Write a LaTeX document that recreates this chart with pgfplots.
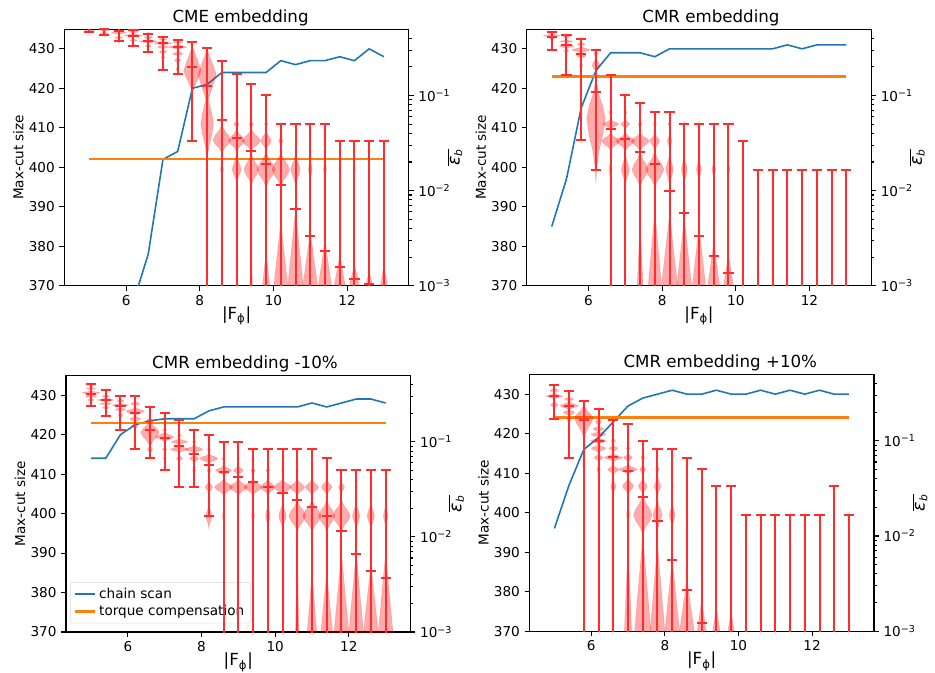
\documentclass[border=0pt]{standalone}
\usepackage{fontspec}
\setmainfont{DejaVu Sans}
\usepackage{pgfplots}
\usepackage{pgfplotstable}
\pgfplotsset{compat=1.18}

\definecolor{tabblue}{HTML}{1F77B4}
\definecolor{taborange}{HTML}{FF7F0E}
\definecolor{vred}{RGB}{255,45,45}
\newcommand\tk{\fontsize{10.2}{12}\selectfont}
\newcommand\bg{\fontsize{12.5}{14}\selectfont}

% violin bodies: each entry = level (log10 eps) / half width / lower and upper extent / shape (0 bump, 1 wedge)
\newcommand\violin[2]{%
  \gdef\vpts{}%
  \foreach \L/\W/\Hl/\Hu/\sh in {#2}{%
    \ifnum\sh=1 \def\fa{0.75}\def\fb{0.5}\def\fc{0.25}\else\def\fa{0.75}\def\fb{0.32}\def\fc{0.08}\fi
    \pgfmathsetmacro\xA{#1-\W}\pgfmathsetmacro\xB{#1-\fa*\W}%
    \pgfmathsetmacro\xC{#1-\fb*\W}\pgfmathsetmacro\xD{#1-\fc*\W}%
    \pgfmathsetmacro\xE{#1+\fc*\W}\pgfmathsetmacro\xF{#1+\fb*\W}%
    \pgfmathsetmacro\xG{#1+\fa*\W}\pgfmathsetmacro\xH{#1+\W}%
    \pgfmathsetmacro\yA{\L-\Hl}\pgfmathsetmacro\yB{\L-0.75*\Hl}%
    \pgfmathsetmacro\yC{\L-0.5*\Hl}\pgfmathsetmacro\yD{\L-0.25*\Hl}%
    \pgfmathsetmacro\yE{\L+0.25*\Hu}\pgfmathsetmacro\yF{\L+0.5*\Hu}%
    \pgfmathsetmacro\yG{\L+0.75*\Hu}\pgfmathsetmacro\yH{\L+\Hu}%
    \xdef\vpts{\vpts (#1,\yA) (\xD,\yB) (\xC,\yC) (\xB,\yD) (\xA,\L) (\xB,\yE) (\xC,\yF) (\xD,\yG) (#1,\yH) (\xE,\yG) (\xF,\yF) (\xG,\yE) (\xH,\L) (\xG,\yD) (\xF,\yC) (\xE,\yB) (#1,\yA) (#1,nan) }%
  }%
  \edef\tmp{\noexpand\addplot[vio] coordinates {\vpts};}\tmp
}

\pgfplotsset{
  common/.style={scale only axis, width=258.5pt, height=192.5pt,
    xmin=4.32, xmax=13.68, tick align=outside,
    major tick length=3.6pt, minor tick length=2.1pt,
    tick style={black, line width=0.8pt}, axis line style={line width=0.8pt},
    tick label style={font=\tk}, label style={font=\tk},
    /pgf/number format/assume math mode=true},
  lax/.style={common, ymin=370, ymax=435, xtick={6,8,10,12},
    ytick={370,380,...,430}, xtick pos=left, ytick pos=left,
    ylabel={Max-cut size}, ylabel style={yshift=-3pt}, xlabel={|F\textsubscript{ϕ}|},
    xlabel style={font=\bg, yshift=6pt}, title style={font=\bg, yshift=-7pt}},
  rax/.style={common, ymin=-3, ymax=-0.30103, axis x line=none, axis y line*=right,
    ytick pos=right, yticklabel pos=right,
    ytick={-3,-2,-1}, yticklabels={10\textsuperscript{−3},10\textsuperscript{−2},10\textsuperscript{−1}},
    minor ytick={-2.699,-2.523,-2.398,-2.301,-2.222,-2.155,-2.097,-2.046,
      -1.699,-1.523,-1.398,-1.301,-1.222,-1.155,-1.097,-1.046,-0.699,-0.523,-0.398},
    ylabel={$\overline{\mbox{\itshape ε}_{\mbox{\footnotesize\itshape b}}}$},
    every axis y label/.style={at={(axis description cs:1.133,0.5)}, anchor=center, rotate=90,
      font=\fontsize{13}{15}\selectfont}},
  vio/.style={fill=red, fill opacity=0.33, draw=red, draw opacity=0.18, line width=0.4pt,
    unbounded coords=jump, forget plot},
  bars/.style={only marks, color=vred, mark=-, mark size=3.8pt,
    mark options={line width=1.5pt}, line width=1.5pt,
    error bars/.cd, y dir=both, y explicit, error mark=|,
    error mark options={line width=1.5pt, mark size=3.8pt},
    error bar style={line width=1.5pt}},
}

% chain-break statistics, log10 of eps_b: max, mean, min
\pgfplotstableread{
x max mean min
5.0 -0.219 -0.269 -0.327
5.4 -0.240 -0.302 -0.360
5.8 -0.260 -0.318 -0.430
6.2 -0.306 -0.372 -0.476
6.6 -0.352 -0.422 -0.543
7.0 -0.381 -0.447 -0.734
7.4 -0.418 -0.493 -0.775
7.8 -0.439 -0.704 -1.481
8.2 -0.501 -0.900 -5
8.6 -0.638 -1.257 -5
9.0 -0.775 -1.447 -5
9.4 -0.875 -1.580 -5
9.8 -0.999 -1.717 -5
10.2 -1.302 -1.937 -5
10.6 -1.302 -2.191 -5
11.0 -1.302 -2.473 -5
11.4 -1.302 -2.639 -5
11.8 -1.481 -2.801 -5
12.2 -1.481 -2.934 -5
12.6 -1.481 -2.979 -5
13.0 -1.481 -3.04 -5
}\errA
\pgfplotstableread{
x max mean min
5.0 -0.331 -0.385 -0.522
5.4 -0.368 -0.464 -0.779
5.8 -0.401 -0.563 -1.472
6.2 -0.522 -0.962 -1.780
6.6 -0.779 -1.356 -5
7.0 -0.999 -1.456 -5
7.4 -1.082 -1.589 -5
7.8 -1.178 -1.721 -5
8.2 -1.178 -2.004 -5
8.6 -1.298 -2.240 -5
9.0 -1.298 -2.473 -5
9.4 -1.298 -2.689 -5
9.8 -1.298 -2.863 -5
10.2 -1.481 -3.3 -5
10.6 -1.780 -3.5 -5
11.0 -1.780 -3.5 -5
11.4 -1.780 -3.5 -5
11.8 -1.780 -3.5 -5
12.2 -1.780 -3.5 -5
12.6 -1.780 -3.5 -5
13.0 -1.780 -3.5 -5
}\errB
\pgfplotstableread{
x max mean min
5.0 -0.397 -0.497 -0.626
5.4 -0.451 -0.563 -0.729
5.8 -0.522 -0.621 -0.875
6.2 -0.522 -0.700 -1.074
6.6 -0.630 -0.879 -1.169
7.0 -0.700 -0.962 -1.294
7.4 -0.775 -1.049 -1.472
7.8 -0.875 -1.132 -1.472
8.2 -0.933 -1.244 -1.775
8.6 -0.999 -1.315 -5
9.0 -0.999 -1.369 -5
9.4 -1.078 -1.427 -5
9.8 -1.078 -1.477 -5
10.2 -1.078 -1.535 -5
10.6 -1.078 -1.609 -5
11.0 -1.078 -1.684 -5
11.4 -1.174 -1.775 -5
11.8 -1.294 -1.937 -5
12.2 -1.294 -2.178 -5
12.6 -1.294 -2.357 -5
13.0 -1.294 -2.427 -5
}\errC
\pgfplotstableread{
x max mean min
5.0 -0.414 -0.526 -0.775
5.4 -0.476 -0.638 -1.178
5.8 -0.576 -0.783 -5
6.2 -0.663 -1.003 -5
6.6 -0.779 -1.174 -5
7.0 -0.821 -1.315 -5
7.4 -0.999 -1.589 -5
7.8 -1.082 -1.842 -5
8.2 -1.082 -2.257 -5
8.6 -1.178 -2.572 -5
9.0 -1.298 -2.917 -5
9.4 -1.477 -3.3 -5
9.8 -1.477 -3.3 -5
10.2 -1.780 -3.5 -5
10.6 -1.780 -3.5 -5
11.0 -1.780 -3.5 -5
11.4 -1.780 -3.5 -5
11.8 -1.780 -3.5 -5
12.2 -1.780 -3.5 -5
12.6 -1.477 -3.4 -5
13.0 -1.780 -3.5 -5
}\errD

\newcommand\errplot[1]{\addplot[bars] table[x=x, y=mean,
  y error plus expr=\thisrow{max}-\thisrow{mean},
  y error minus expr=\thisrow{mean}-\thisrow{min}] {#1};}

\begin{document}
\begin{tikzpicture}
\path[use as bounding box] (0,0) rectangle (701.25pt,-504pt);

% ---------------- CME embedding
\begin{axis}[lax, at={(48.2pt,-214.3pt)}, anchor=south west, title={CME embedding},
  title style={xshift=3pt}]
\addplot[color=tabblue, line width=1.2pt, mark=none] coordinates {(6.2,366) (6.6,378) (7.0,402) (7.4,404) (7.8,420) (8.2,421) (8.6,424) (9.0,424) (9.4,424) (9.8,424) (10.2,427) (10.6,426) (11.0,427) (11.4,427) (11.8,428) (12.2,427) (12.6,430) (13.0,428)};
\addplot[color=taborange, line width=1.4pt, mark=none] coordinates {(5.0,402) (13.0,402)};
\end{axis}
\begin{axis}[rax, at={(48.2pt,-214.3pt)}, anchor=south west]
\violin{5.0}{-0.32/0.14/0.03/0.04/0, -0.27/0.12/0.03/0.04/0}
\violin{5.4}{-0.35/0.1/0.03/0.03/0, -0.31/0.14/0.02/0.03/0, -0.27/0.1/0.02/0.03/0}
\violin{5.8}{-0.43/0.05/0.02/0.02/0, -0.39/0.1/0.02/0.02/0, -0.34/0.2/0.02/0.03/0, -0.29/0.15/0.02/0.03/0}
\violin{6.2}{-0.47/0.05/0.02/0.02/0, -0.42/0.1/0.02/0.02/0, -0.37/0.25/0.02/0.025/0, -0.33/0.12/0.02/0.02/0}
\violin{6.6}{-0.54/0.04/0.02/0.02/0, -0.48/0.08/0.02/0.02/0, -0.43/0.25/0.025/0.025/0, -0.39/0.12/0.02/0.02/0, -0.35/0.06/0.02/0.02/0}
\violin{7.0}{-0.68/0.03/0.04/0.04/0, -0.60/0.05/0.03/0.03/0, -0.54/0.1/0.03/0.03/0, -0.49/0.15/0.025/0.025/0, -0.45/0.25/0.025/0.025/0, -0.41/0.1/0.02/0.02/0}
\violin{7.4}{-0.72/0.04/0.05/0.05/0, -0.63/0.08/0.04/0.04/0, -0.56/0.14/0.03/0.03/0, -0.49/0.25/0.03/0.03/0, -0.44/0.12/0.02/0.02/0}
\violin{7.8}{-1.2/0.02/0.28/0.25/1, -0.74/0.24/0.22/0.26/1}
\violin{8.2}{-1.30/0.17/0.45/0.45/0, -0.78/0.25/0.3/0.27/1}
\violin{8.6}{-1.78/0.04/0.1/0.1/0, -1.47/0.24/0.16/0.2/0, -1.0/0.03/0.25/0.4/1}
\violin{9.0}{-1.778/0.12/0.17/0.2/0, -1.477/0.22/0.13/0.15/0, -1.301/0.07/0.05/0.05/0, -1.176/0.03/0.03/0.03/0}
\violin{9.4}{-3/0.03/0.3/0.6/1, -1.778/0.2/0.2/0.2/0, -1.477/0.25/0.13/0.15/0, -1.301/0.06/0.05/0.05/0}
\violin{9.8}{-3/0.1/0.3/0.35/1, -1.778/0.25/0.22/0.22/0, -1.477/0.14/0.12/0.13/0, -1.301/0.04/0.04/0.04/0}
\violin{10.2}{-3/0.19/0.3/0.67/1, -1.778/0.24/0.22/0.22/0, -1.477/0.06/0.06/0.06/0}
\violin{10.6}{-3/0.21/0.3/0.8/1, -1.778/0.13/0.2/0.2/0}
\violin{11.0}{-3/0.2/0.3/0.57/1, -1.778/0.05/0.15/0.15/0}
\violin{11.4}{-3/0.18/0.3/0.47/1, -1.778/0.04/0.12/0.12/0}
\violin{11.8}{-3/0.15/0.3/0.32/1, -1.778/0.025/0.1/0.1/0}
\violin{12.2}{-3/0.14/0.3/0.22/1, -1.778/0.02/0.1/0.1/0}
\violin{12.6}{-3/0.1/0.3/0.15/1, -1.778/0.015/0.08/0.08/0}
\violin{13.0}{-3/0.1/0.3/0.22/1, -1.778/0.015/0.08/0.08/0}
\errplot{\errA}
\end{axis}

% ---------------- CMR embedding
\begin{axis}[lax, at={(395.0pt,-214.3pt)}, anchor=south west, title={CMR embedding},
  title style={xshift=9pt}]
\addplot[color=tabblue, line width=1.2pt, mark=none] coordinates {(5.0,385) (5.4,397) (5.8,415) (6.2,424.5) (6.6,429) (7.0,429) (7.4,429) (7.8,428) (8.2,430) (8.6,430) (9.0,430) (9.4,430) (9.8,430) (10.2,430) (10.6,430) (11.0,430) (11.4,431) (11.8,430) (12.2,431) (12.6,431) (13.0,431)};
\addplot[color=taborange, line width=2.2pt, mark=none] coordinates {(5.0,423) (13.0,423)};
\end{axis}
\begin{axis}[rax, at={(395.0pt,-214.3pt)}, anchor=south west]
\violin{5.0}{-0.40/0.06/0.02/0.02/0, -0.37/0.23/0.015/0.02/0, -0.34/0.1/0.02/0.02/0}
\violin{5.4}{-0.53/0.06/0.03/0.03/0, -0.48/0.2/0.03/0.03/0, -0.43/0.18/0.02/0.02/0, -0.38/0.1/0.02/0.02/0}
\violin{5.8}{-0.68/0.04/0.06/0.05/0, -0.58/0.12/0.04/0.04/0, -0.52/0.25/0.04/0.04/0, -0.46/0.1/0.03/0.03/0}
\violin{6.2}{-1.24/0.25/0.7/0.5/0, -0.68/0.1/0.1/0.1/0, -0.56/0.05/0.05/0.05/0}
\violin{6.6}{-1.778/0.04/0.15/0.15/0, -1.477/0.25/0.12/0.1/0, -1.301/0.22/0.06/0.06/0, -1.176/0.05/0.04/0.04/0}
\violin{7.0}{-1.778/0.11/0.2/0.2/0, -1.477/0.25/0.12/0.1/0, -1.301/0.12/0.06/0.06/0, -1.176/0.04/0.04/0.04/0}
\violin{7.4}{-3/0.08/0.3/0.67/1, -1.778/0.22/0.22/0.22/0, -1.477/0.25/0.12/0.1/0, -1.301/0.05/0.05/0.05/0, -1.176/0.02/0.03/0.03/0}
\violin{7.8}{-3/0.18/0.3/0.79/1, -1.778/0.25/0.22/0.22/0, -1.477/0.13/0.12/0.1/0, -1.301/0.04/0.05/0.05/0}
\violin{8.2}{-3/0.22/0.3/0.75/1, -1.778/0.1/0.2/0.2/0, -1.477/0.06/0.1/0.1/0, -1.301/0.04/0.04/0.04/0}
\violin{8.6}{-3/0.2/0.3/0.71/1, -1.778/0.08/0.18/0.18/0, -1.301/0.02/0.03/0.03/0}
\violin{9.0}{-3/0.18/0.3/0.62/1, -1.778/0.07/0.15/0.15/0, -1.301/0.02/0.03/0.03/0}
\violin{9.4}{-3/0.16/0.3/0.46/1, -1.778/0.05/0.1/0.1/0}
\violin{9.8}{-3/0.13/0.3/0.33/1, -1.778/0.04/0.08/0.08/0}
\errplot{\errB}
\end{axis}

% ---------------- CMR embedding -10%
\begin{axis}[lax, at={(49.5pt,-474.0pt)}, anchor=south west, title={CMR embedding -10\%},
  title style={xshift=5pt},
  legend style={at={(0.012,0.034)}, anchor=south west, font=\tk, draw=black!15,
    rounded corners=2pt, fill=white, fill opacity=0.8, text opacity=1},
  legend cell align=left,
  legend image code/.code={\draw[#1] (0pt,0pt) -- (15pt,0pt);}]
\addplot[color=tabblue, line width=1.2pt, mark=none] coordinates {(5.0,414) (5.4,414) (5.8,420) (6.2,422.5) (6.6,423.5) (7.0,424) (7.4,424) (7.8,424) (8.2,426) (8.6,427) (9.0,427) (9.4,427) (9.8,427) (10.2,427) (10.6,427) (11.0,428) (11.4,427) (11.8,428) (12.2,429) (12.6,429) (13.0,428)};
\addlegendentry{chain scan}
\addplot[color=taborange, line width=1.6pt, mark=none] coordinates {(5.0,423) (13.0,423)};
\addlegendentry{torque compensation}
\end{axis}
\begin{axis}[rax, at={(49.5pt,-474.0pt)}, anchor=south west]
\violin{5.0}{-0.56/0.08/0.03/0.03/0, -0.52/0.15/0.02/0.02/0, -0.485/0.25/0.02/0.025/0, -0.44/0.12/0.02/0.02/0, -0.41/0.06/0.02/0.02/0}
\violin{5.4}{-0.64/0.08/0.03/0.03/0, -0.60/0.15/0.02/0.02/0, -0.56/0.22/0.025/0.025/0, -0.52/0.1/0.02/0.02/0}
\violin{5.8}{-0.72/0.06/0.04/0.04/0, -0.66/0.14/0.025/0.025/0, -0.615/0.22/0.025/0.025/0, -0.57/0.1/0.02/0.02/0}
\violin{6.2}{-0.83/0.08/0.05/0.05/0, -0.76/0.15/0.04/0.04/0, -0.68/0.25/0.05/0.05/0, -0.6/0.12/0.03/0.03/0}
\violin{6.6}{-1.079/0.07/0.05/0.05/0, -0.90/0.25/0.18/0.15/0, -0.779/0.1/0.04/0.04/0}
\violin{7.0}{-1.176/0.04/0.03/0.03/0, -1.079/0.06/0.03/0.03/0, -0.95/0.25/0.06/0.06/0, -0.875/0.05/0.03/0.03/0}
\violin{7.4}{-1.176/0.08/0.04/0.04/0, -1.079/0.25/0.04/0.04/0, -1.0/0.22/0.04/0.04/0, -0.933/0.05/0.03/0.03/0}
\violin{7.8}{-1.301/0.04/0.04/0.04/0, -1.176/0.12/0.05/0.05/0, -1.079/0.24/0.05/0.05/0, -1.0/0.04/0.03/0.03/0}
\violin{8.2}{-1.778/0.08/0.15/0.15/0, -1.477/0.1/0.08/0.08/0, -1.301/0.05/0.04/0.04/0, -1.176/0.25/0.06/0.06/0, -1.079/0.04/0.03/0.03/0}
\violin{8.6}{-1.778/0.03/0.1/0.1/0, -1.477/0.25/0.1/0.1/0, -1.301/0.22/0.06/0.06/0, -1.176/0.04/0.03/0.03/0}
\violin{9.0}{-1.477/0.25/0.1/0.1/0, -1.301/0.13/0.06/0.06/0, -1.176/0.03/0.03/0.03/0}
\violin{9.4}{-1.778/0.04/0.12/0.12/0, -1.477/0.25/0.1/0.1/0, -1.301/0.06/0.05/0.05/0}
\violin{9.8}{-1.778/0.06/0.15/0.15/0, -1.477/0.2/0.1/0.1/0, -1.301/0.05/0.04/0.04/0}
\violin{10.2}{-1.778/0.1/0.17/0.17/0, -1.477/0.24/0.1/0.1/0, -1.301/0.03/0.04/0.04/0}
\violin{10.6}{-3/0.05/0.3/0.8/1, -1.778/0.23/0.2/0.2/0, -1.477/0.2/0.1/0.1/0, -1.301/0.03/0.04/0.04/0}
\violin{11.0}{-3/0.13/0.3/0.62/1, -1.778/0.25/0.2/0.2/0, -1.477/0.18/0.1/0.1/0, -1.301/0.03/0.04/0.04/0}
\violin{11.4}{-3/0.16/0.3/0.62/1, -1.778/0.22/0.2/0.2/0, -1.477/0.14/0.1/0.1/0, -1.301/0.02/0.03/0.03/0}
\violin{11.8}{-3/0.2/0.3/0.83/1, -1.778/0.24/0.2/0.2/0, -1.477/0.08/0.08/0.08/0}
\violin{12.2}{-3/0.2/0.3/0.83/1, -1.778/0.1/0.17/0.17/0, -1.477/0.03/0.05/0.05/0}
\violin{12.6}{-3/0.2/0.3/0.71/1, -1.778/0.1/0.17/0.17/0}
\violin{13.0}{-3/0.2/0.3/0.83/1, -1.778/0.06/0.15/0.15/0}
\errplot{\errC}
\end{axis}

% ---------------- CMR embedding +10%
\begin{axis}[lax, at={(397.0pt,-473.3pt)}, anchor=south west, title={CMR embedding +10\%},
  title style={xshift=14pt}]
\addplot[color=tabblue, line width=1.2pt, mark=none] coordinates {(5.0,396) (5.4,407) (5.8,416) (6.2,419) (6.6,423) (7.0,427) (7.4,429) (7.8,430) (8.2,431) (8.6,430) (9.0,430) (9.4,431) (9.8,430) (10.2,430) (10.6,431) (11.0,430) (11.4,431) (11.8,430) (12.2,431) (12.6,430) (13.0,430)};
\addplot[color=taborange, line width=2.2pt, mark=none] coordinates {(5.0,424) (13.0,424)};
\end{axis}
\begin{axis}[rax, at={(397.0pt,-473.3pt)}, anchor=south west]
\violin{5.0}{-0.62/0.1/0.05/0.04/0, -0.53/0.23/0.03/0.03/0, -0.47/0.12/0.03/0.03/0}
\violin{5.4}{-0.77/0.06/0.06/0.05/0, -0.70/0.15/0.05/0.04/0, -0.63/0.25/0.05/0.05/0, -0.56/0.12/0.03/0.03/0}
\violin{5.8}{-1.2/0.03/0.3/0.2/1, -0.76/0.25/0.25/0.16/0}
\violin{6.2}{-1.301/0.05/0.06/0.06/0, -1.176/0.12/0.05/0.05/0, -1.079/0.2/0.05/0.05/0, -1.0/0.22/0.04/0.04/0, -0.933/0.2/0.04/0.04/0, -0.875/0.15/0.04/0.04/0, -0.80/0.08/0.05/0.05/0}
\violin{6.6}{-1.477/0.07/0.1/0.1/0, -1.301/0.15/0.06/0.06/0, -1.176/0.25/0.05/0.05/0, -1.079/0.12/0.04/0.04/0, -1.0/0.06/0.04/0.04/0}
\violin{7.0}{-3/0.1/0.3/0.91/1, -1.778/0.04/0.15/0.15/0, -1.477/0.15/0.1/0.1/0, -1.301/0.25/0.06/0.06/0, -1.176/0.12/0.05/0.05/0, -1.079/0.05/0.03/0.03/0}
\violin{7.4}{-3/0.22/0.3/1.0/1, -1.778/0.25/0.25/0.25/0, -1.477/0.12/0.1/0.1/0, -1.301/0.08/0.06/0.06/0, -1.176/0.05/0.04/0.04/0}
\violin{7.8}{-3/0.2/0.3/0.91/1, -1.778/0.12/0.2/0.2/0, -1.477/0.09/0.12/0.12/0, -1.301/0.05/0.05/0.05/0}
\violin{8.2}{-3/0.2/0.3/0.75/1, -1.778/0.08/0.15/0.15/0, -1.477/0.03/0.05/0.05/0}
\violin{8.6}{-3/0.2/0.3/0.54/1, -1.778/0.03/0.1/0.1/0}
\violin{9.0}{-3/0.12/0.3/0.33/1, -1.778/0.02/0.08/0.08/0}
\violin{9.4}{-3/0.1/0.3/0.25/1}
\violin{9.8}{-3/0.09/0.3/0.2/1}
\errplot{\errD}
\end{axis}
\end{tikzpicture}
\end{document}
